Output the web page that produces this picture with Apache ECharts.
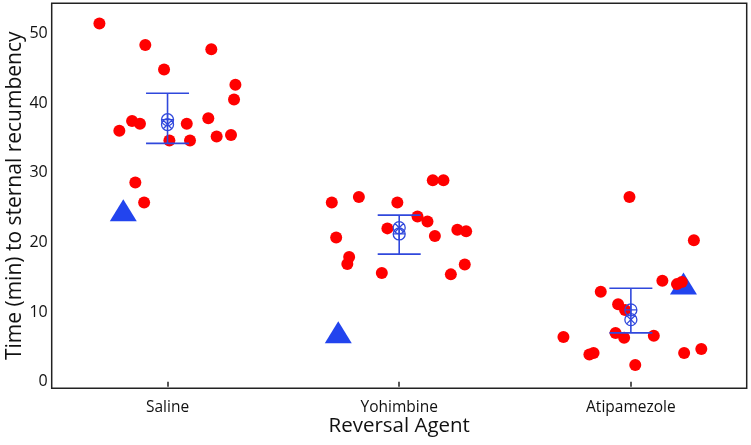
<!DOCTYPE html>
<html><head><meta charset="utf-8">
<script src="https://cdn.jsdelivr.net/npm/echarts@6/dist/echarts.min.js"></script>
<style>html,body{margin:0;padding:0;background:#fff}#c{width:751px;height:445px}</style>
</head><body><div id="c"></div>
<script>
const categories = ['Saline', 'Yohimbine', 'Atipamezole'];
const yTicks = [0, 10, 20, 30, 40, 50];

// individual observations (jitter offsets within category, value in minutes)
const salineJitter = [-0.294, -0.096, 0.189, -0.015, 0.293, 0.287, 0.176, -0.153, -0.119, 0.083, -0.208, 0.212, 0.274, 0.008, 0.097, -0.139, -0.101];
const salineValues = [51.4, 48.3, 47.7, 44.8, 42.6, 40.5, 37.8, 37.4, 37.0, 37.0, 36.0, 35.2, 35.4, 34.6, 34.6, 28.6, 25.7];
const yohimbineJitter = [0.145, 0.191, -0.174, -0.291, -0.008, 0.079, 0.122, -0.051, 0.251, 0.289, -0.272, 0.154, -0.216, -0.224, 0.283, -0.075, 0.223];
const yohimbineValues = [28.9, 28.9, 26.5, 25.7, 25.7, 23.7, 23.0, 22.0, 21.8, 21.6, 20.7, 20.9, 17.9, 16.9, 16.8, 15.6, 15.4];
const atipamezoleJitter = [-0.006, 0.272, 0.136, 0.199, 0.220, -0.130, -0.055, -0.025, -0.066, -0.029, 0.099, -0.291, -0.179, -0.161, 0.230, 0.304, 0.019];
const atipamezoleValues = [26.5, 20.3, 14.5, 14.0, 14.3, 12.9, 11.1, 10.3, 7.0, 6.3, 6.6, 6.4, 3.9, 4.1, 4.1, 4.7, 2.4];

// triangle markers
const triangleJitter = [-0.191, -0.263, 0.227];
const triangleValues = [24.6, 7.1, 14.1];

// summary markers
const plusValues = [37.6, 21.2, 10.3];
const crossValues = [36.9, 22.1, 8.9];
const errLow = [34.2, 18.3, 7.0];
const errHigh = [41.4, 23.9, 13.4];

const dotBlue = '#2244ee';
const lineBlue = '#3048dc';

const groups = [[salineJitter, salineValues], [yohimbineJitter, yohimbineValues], [atipamezoleJitter, atipamezoleValues]];
const dots = [];
groups.forEach((g, i) => g[0].forEach((j, k) => dots.push([i + j, g[1][k]])));
const tri = triangleValues.map((v, i) => [i + triangleJitter[i], v]);
const plus = plusValues.map((v, i) => [i, v]);
const cross = crossValues.map((v, i) => [i, v]);
const errs = errLow.map((v, i) => [i, v, errHigh[i]]);

const circlePlus = 'path://M20,10 A10,10 0 1,1 0,10 A10,10 0 1,1 20,10 Z M0,10 L20,10 M10,0 L10,20';
const circleCross = 'path://M20,10 A10,10 0 1,1 0,10 A10,10 0 1,1 20,10 Z M2.93,2.93 L17.07,17.07 M17.07,2.93 L2.93,17.07';

const font = 'Open Sans';
const chart = echarts.init(document.getElementById('c'), null, {renderer: 'canvas'});
chart.setOption({
  animation: false,
  backgroundColor: '#fff',
  grid: {left: 51.7, right: 4.3, top: 3.3, bottom: 56.7, outerBoundsMode: 'none', containLabel: false,
         show: true, borderColor: '#222', borderWidth: 1.5, backgroundColor: 'transparent'},
  xAxis: [
    {type: 'category', data: categories, position: 'bottom',
     axisLine: {show: false}, axisTick: {show: true, alignWithLabel: true, length: 5, lineStyle: {color: '#222', width: 1.5}},
     axisLabel: {fontFamily: font, fontSize: 15.5, color: '#111', margin: 11},
     name: 'Reversal Agent', nameLocation: 'middle', nameGap: 27, nameMoveOverlap: false,
     nameTextStyle: {fontFamily: font, fontSize: 20.5, color: '#111'}},
    {type: 'value', min: -0.5, max: 2.5, show: false}
  ],
  yAxis: {type: 'value', min: -0.95, max: 54.3,
    axisLine: {show: false}, axisTick: {show: false}, splitLine: {show: false},
    axisLabel: {customValues: yTicks, fontFamily: font, fontSize: 16, color: '#111', margin: 4},
    name: 'Time (min) to sternal recumbency', nameLocation: 'middle', nameGap: 26, nameMoveOverlap: false,
    nameTextStyle: {fontFamily: font, fontSize: 21, color: '#111'}},
  series: [
    {type: 'scatter', xAxisIndex: 1, data: tri, symbol: 'triangle', symbolSize: [27, 22], itemStyle: {color: dotBlue, opacity: 1}, z: 2},
    {type: 'scatter', xAxisIndex: 1, data: dots, symbol: 'circle', symbolSize: 12, itemStyle: {color: '#ff0000', opacity: 1}, z: 3},
    {type: 'custom', xAxisIndex: 1, data: errs, z: 4,
     renderItem: function (params, api) {
       const x = api.value(0);
       const lo = api.coord([x, api.value(1)]);
       const hi = api.coord([x, api.value(2)]);
       const half = 21.5;
       const st = {stroke: lineBlue, lineWidth: 1.6};
       return {type: 'group', children: [
         {type: 'line', shape: {x1: lo[0], y1: lo[1], x2: hi[0], y2: hi[1]}, style: st},
         {type: 'line', shape: {x1: hi[0] - half, y1: hi[1], x2: hi[0] + half, y2: hi[1]}, style: st},
         {type: 'line', shape: {x1: lo[0] - half, y1: lo[1], x2: lo[0] + half, y2: lo[1]}, style: st}
       ]};
     }},
    {type: 'scatter', xAxisIndex: 1, data: plus, symbol: circlePlus, symbolSize: 12, itemStyle: {color: 'transparent', borderColor: lineBlue, borderWidth: 1.3, opacity: 1}, z: 5},
    {type: 'scatter', xAxisIndex: 1, data: cross, symbol: circleCross, symbolSize: 12, itemStyle: {color: 'transparent', borderColor: lineBlue, borderWidth: 1.3, opacity: 1}, z: 6}
  ]
});
</script></body></html>
